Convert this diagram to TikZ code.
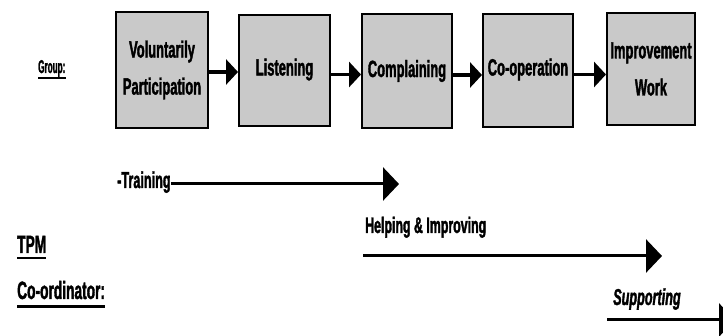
\documentclass[tikz,border=0pt]{standalone}
\usepackage{fontspec}
\setmainfont{Liberation Sans}[FakeStretch=0.55, BoldFeatures={FakeBold=1.5}, BoldItalicFeatures={FakeBold=1.5}]
\usetikzlibrary{arrows.meta}
\begin{document}
\begin{tikzpicture}[x=1pt,y=-1pt,
  stage/.style={draw=black, line width=2pt, fill=gray!42, inner sep=0pt,
    align=center, font=\bfseries\fontsize{23.5}{37}\selectfont},
  lbl/.style={inner sep=0pt, anchor=base west},
  conn/.style={line width=3.5pt, -{Triangle[length=12pt,width=25pt]}},
  longarr/.style={line width=3pt, -{Triangle[length=16pt,width=33pt]}},
  ul/.style={line width=2pt}]
\useasboundingbox (0,0) rectangle (723,336);
% stage boxes
\node[stage, minimum width=92pt, minimum height=116pt] (b1) at (162,70) {Voluntarily\\Participation};
\node[stage, minimum width=91pt, minimum height=111pt] (b2) at (284.5,70.5) {\raisebox{7pt}{Listening}};
\node[stage, minimum width=90pt, minimum height=114pt] (b3) at (407,71) {\raisebox{-2pt}{Complaining}};
\node[stage, minimum width=90pt, minimum height=113pt] (b4) at (528,70.5) {\raisebox{7pt}{Co-operation}};
\node[stage, minimum width=88pt, minimum height=112pt] (b5) at (651,69) {Improvement\\Work};
% connectors
\draw[conn] ([yshift=-2pt]b1.east) -- ([yshift=-2pt]b1.east -| b2.west);
\draw[conn] ([yshift=-4pt]b2.east) -- ([yshift=-4pt]b2.east -| b3.west);
\draw[conn] ([yshift=-4pt]b3.east) -- ([yshift=-4pt]b3.east -| b4.west);
\draw[conn] ([yshift=-4pt]b4.east) -- ([yshift=-4pt]b4.east -| b5.west);
% left labels
\node[lbl, font=\bfseries\fontsize{18.5}{20}\selectfont] (grp) at (38,73) {\scalebox{0.8}[1]{Group:}};
\draw[ul] ([yshift=-5pt]grp.base west) -- ([yshift=-5pt]grp.base east);
\node[lbl, font=\bfseries\fontsize{25}{27}\selectfont] (tpm) at (17,253) {TPM};
\draw[ul] ([yshift=-5pt]tpm.base west) -- ([yshift=-5pt]tpm.base east);
\node[lbl, font=\bfseries\fontsize{25}{27}\selectfont] (coo) at (17,299) {Co-ordinator:};
\draw[line width=3pt] ([yshift=-8pt]coo.base west) -- ([yshift=-8pt]coo.base east);
% activity arrows
\node[lbl, font=\bfseries\fontsize{23}{25}\selectfont] (trn) at (117,188) {-Training};
\coordinate (trnEnd) at (399,184);
\draw[longarr] ([yshift=4pt]trn.base east) -- (trnEnd);
\node[lbl, font=\bfseries\fontsize{22.5}{25}\selectfont] (hlp) at (365,233) {Helping \& Improving};
\coordinate (hlpStart) at (363,256);
\coordinate (hlpEnd) at (662,256);
\draw[longarr] (hlpStart) -- (hlpEnd);
\node[lbl, font=\bfseries\itshape\fontsize{23}{25}\selectfont] (sup) at (613,305) {Supporting};
\coordinate (supStart) at (607,320);
\coordinate (supEnd) at (735,320);
\draw[longarr] (supStart) -- (supEnd);
\end{tikzpicture}
\end{document}
